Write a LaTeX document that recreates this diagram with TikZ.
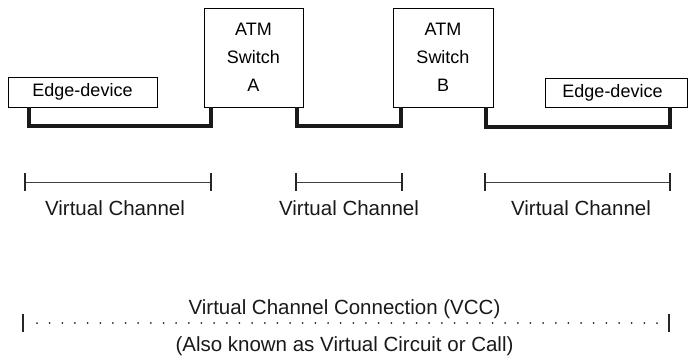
\documentclass[tikz,border=0pt]{standalone}
\usepackage{fontspec}
\setmainfont{Liberation Sans}
\begin{document}
\begin{tikzpicture}[x=1pt,y=-1pt,
  box/.style={draw=black, line width=0.9pt, inner sep=0pt, font=\fontsize{18}{28}\selectfont, align=center},
  conn/.style={line width=4pt, black!90},
  bar/.style={line width=1pt, black!75},
  tick/.style={line width=1.6pt, black!85},
  lbl/.style={inner sep=0pt, anchor=base, font=\fontsize{20.5}{24}\selectfont, text=black!90}]
\useasboundingbox (0,0) rectangle (689,356);
% boxes
\node[box, minimum width=149pt, minimum height=30pt] (e1) at (82.5,92) {Edge-device};
\node[box, minimum width=99pt, minimum height=99pt] (swA) at (253.5,57.5) {ATM\\Switch\\A};
\node[box, minimum width=100pt, minimum height=99pt] (swB) at (443,57.5) {ATM\\Switch\\B};
\node[box, minimum width=142pt, minimum height=29pt] (e2) at (616,92.5) {\hspace*{-7pt}Edge-device};
% thick connectors
\draw[conn] ([xshift=21pt]e1.south west) -- ++(0,19) -| ([xshift=7pt]swA.south west);
\draw[conn] ([xshift=-6pt]swA.south east) -- ++(0,19) -| ([xshift=8pt]swB.south west);
\draw[conn] ([xshift=-7pt]swB.south east) -- ++(0,20) -| ([xshift=-17pt]e2.south east);
% virtual channel intervals
\foreach \n/\a/\b/\c in {1/25/211/115, 2/296/402/349, 3/485/670/581}{
  \coordinate (l\n) at (\a,182);
  \coordinate (r\n) at (\b,182);
  \draw[bar] (l\n) -- (r\n);
  \draw[tick] ([yshift=9pt]l\n) -- ([yshift=-9pt]l\n);
  \draw[tick] ([yshift=9pt]r\n) -- ([yshift=-9pt]r\n);
  \node[lbl] (vc\n) at (\c,215) {Virtual Channel};
}
% VCC
\node[lbl] (vcc) at (344.5,314) {Virtual Channel Connection (VCC)};
\node[lbl] (aka) at (344.5,351) {(Also known as Virtual Circuit or Call)};
\coordinate (vl) at (23,323);
\coordinate (vr) at (669,323);
\draw[tick] ([yshift=-9pt]vl) -- ([yshift=9pt]vl);
\draw[tick] ([yshift=-9pt]vr) -- ([yshift=9pt]vr);
\foreach \i in {0,...,49}{
  \fill[black!85] ({37+\i*12.653},323) circle (1pt);
}
\end{tikzpicture}
\end{document}
